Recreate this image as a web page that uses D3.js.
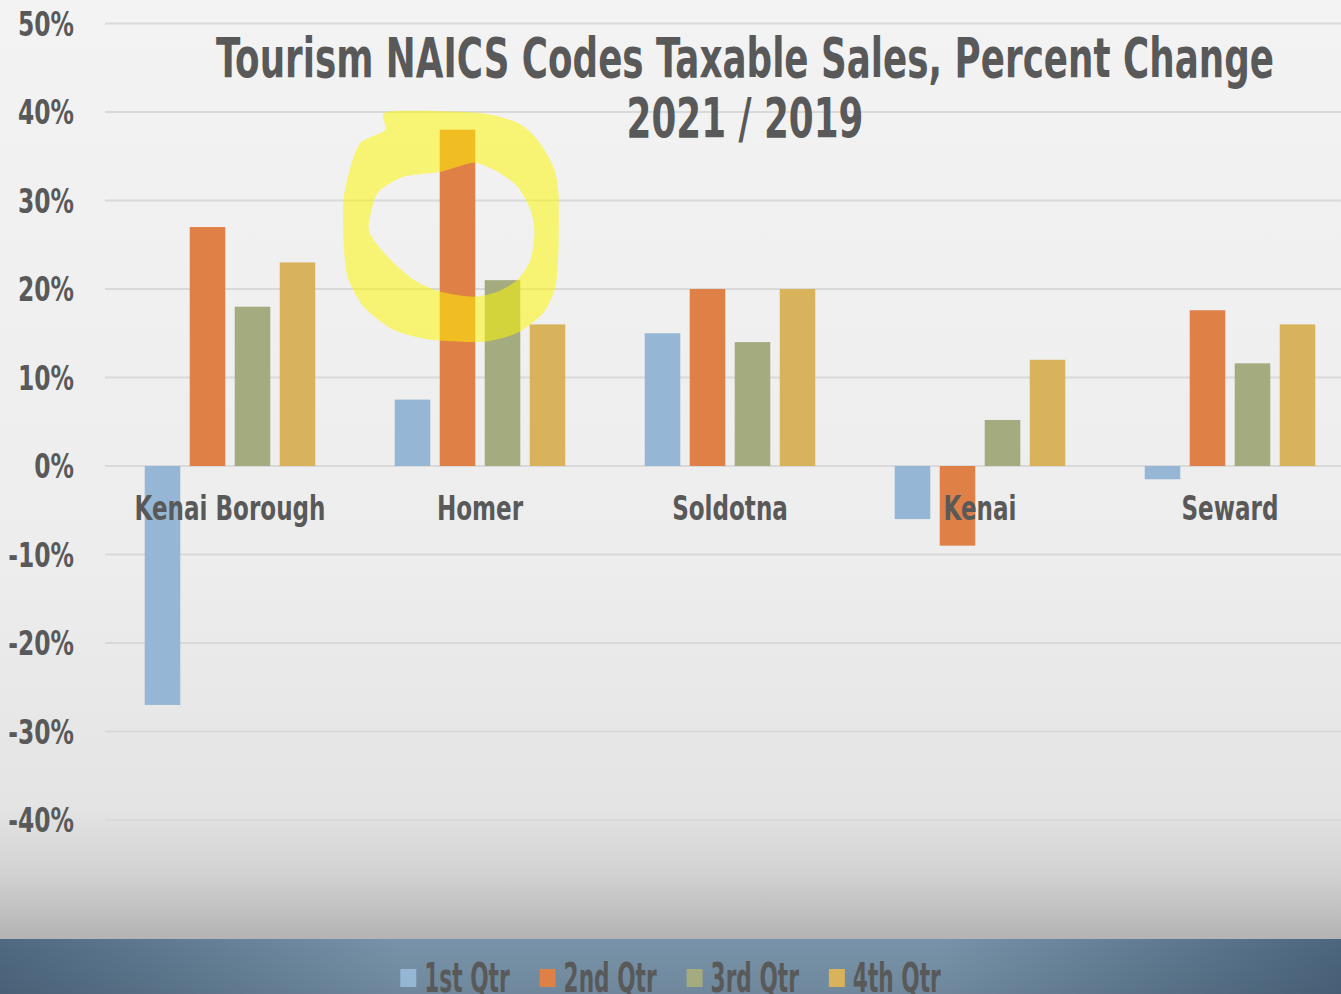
<!DOCTYPE html>
<html>
<head>
<meta charset="utf-8">
<script src="https://cdn.jsdelivr.net/npm/d3@7"></script>
<style>
  html, body { margin: 0; padding: 0; overflow: hidden; }
  svg { display: block; }
  text { font-family: Impact, "Liberation Sans Narrow", "DejaVu Sans Condensed", "DejaVu Sans", sans-serif; font-weight: bold; fill: #595959; }
</style>
</head>
<body>
<div id="chart"></div>
<script>
const places = ['Kenai Borough', 'Homer', 'Soldotna', 'Kenai', 'Seward'];
const quarters = ['1st Qtr', '2nd Qtr', '3rd Qtr', '4th Qtr'];
const qtr1 = [-27, 7.5, 15, -6, -1.5];
const qtr2 = [27, 38, 20, -9, 17.6];
const qtr3 = [18, 21, 14, 5.2, 11.6];
const qtr4 = [23, 16, 20, 12, 16];
const yTicks = [-40, -30, -20, -10, 0, 10, 20, 30, 40, 50];
const colors = ['#95b6d4', '#df8047', '#a4ab7e', '#d9b25c'];

const W = 1341, H = 994;
const series = [qtr1, qtr2, qtr3, qtr4];

// no condensed font installed: squeeze each text by the factor that makes
// a reference string as wide as in the picture
function squeeze(sel, refText, refWidth) {
    const probe = sel.filter(function() { return this.textContent === refText; }).node();
    const f = refWidth / probe.getComputedTextLength();
    sel.each(function() {
        const w = this.getComputedTextLength();
        d3.select(this).attr('textLength', w * f).attr('lengthAdjust', 'spacingAndGlyphs');
    });
    return f;
}

const svg = d3.select('#chart').append('svg')
    .attr('width', W)
    .attr('height', H);

// background
const defs = svg.append('defs');
const bg = defs.append('linearGradient').attr('id', 'bg')
    .attr('x1', 0).attr('y1', 0).attr('x2', 0).attr('y2', 1);
bg.append('stop').attr('offset', 0).attr('stop-color', '#f3f3f3');
bg.append('stop').attr('offset', 0.6).attr('stop-color', '#ededed');
bg.append('stop').attr('offset', 0.86).attr('stop-color', '#e4e4e4');
bg.append('stop').attr('offset', 0.93).attr('stop-color', '#d2d2d2');
bg.append('stop').attr('offset', 1).attr('stop-color', '#b3b3b3');
svg.append('rect').attr('width', W).attr('height', 939).attr('fill', 'url(#bg)');

const band = defs.append('linearGradient').attr('id', 'band')
    .attr('x1', 0).attr('y1', 0).attr('x2', 1).attr('y2', 0);
band.append('stop').attr('offset', 0).attr('stop-color', '#4f6981');
band.append('stop').attr('offset', 0.3).attr('stop-color', '#7893a9');
band.append('stop').attr('offset', 0.7).attr('stop-color', '#7893a9');
band.append('stop').attr('offset', 1).attr('stop-color', '#4c667e');
svg.append('rect').attr('y', 939).attr('width', W).attr('height', H - 939).attr('fill', 'url(#band)');
const bandShade = defs.append('linearGradient').attr('id', 'bandShade')
    .attr('x1', 0).attr('y1', 0).attr('x2', 0).attr('y2', 1);
bandShade.append('stop').attr('offset', 0).attr('stop-color', '#000').attr('stop-opacity', 0);
bandShade.append('stop').attr('offset', 1).attr('stop-color', '#000').attr('stop-opacity', 0.08);
svg.append('rect').attr('y', 939).attr('width', W).attr('height', H - 939).attr('fill', 'url(#bandShade)');

// scales
const y = d3.scaleLinear().domain([-40, 50]).range([820, 23.5]);
const x0 = d3.scaleBand().domain(places).range([105, 1355]);
const x1 = d3.scaleBand().domain(quarters).range([0, x0.bandwidth()])
    .paddingInner(0.21).paddingOuter(0.883);

// grid
svg.append('g').selectAll('line')
    .data(yTicks)
    .join('line')
    .attr('x1', 105).attr('x2', W)
    .attr('y1', d => y(d)).attr('y2', d => y(d))
    .attr('stroke', '#d9d9d9')
    .attr('stroke-width', 2);

// y axis labels
const yLabels = svg.append('g').selectAll('text')
    .data(yTicks)
    .join('text')
    .attr('x', 74)
    .attr('y', d => y(d) + 12)
    .attr('text-anchor', 'end')
    .style('font-size', '34px')
    .text(d => d + '%');
squeeze(yLabels, '50%', 56);

// bars
const groups = svg.append('g').selectAll('g')
    .data(places)
    .join('g')
    .attr('transform', d => `translate(${x0(d)},0)`);

groups.selectAll('rect')
    .data((p, i) => quarters.map((q, k) => ({q, v: series[k][i], c: colors[k]})))
    .join('rect')
    .attr('x', d => x1(d.q))
    .attr('width', x1.bandwidth())
    .attr('y', d => y(Math.max(0, d.v)))
    .attr('height', d => Math.abs(y(d.v) - y(0)))
    .attr('fill', d => d.c);

// category labels
const catLabels = svg.append('g').selectAll('text')
    .data(places)
    .join('text')
    .attr('x', d => x0(d) + x0.bandwidth() / 2)
    .attr('y', y(0) + 54)
    .attr('text-anchor', 'middle')
    .style('font-size', '34px')
    .text(d => d);
squeeze(catLabels, 'Kenai Borough', 191);

// title
const title = svg.append('g').selectAll('text')
    .data(['Tourism NAICS Codes Taxable Sales, Percent Change', '2021 / 2019'])
    .join('text')
    .attr('x', 745)
    .attr('y', (d, i) => 77 + i * 60)
    .attr('text-anchor', 'middle')
    .style('font-size', '55px')
    .text(d => d);
squeeze(title, 'Tourism NAICS Codes Taxable Sales, Percent Change', 1058);

// yellow highlighter loop round Homer 2nd Qtr
const ax = x0('Homer') + x1('2nd Qtr') + x1.bandwidth() / 2;
const ay = y(qtr2[1]);
const outer = [[387,112],[477,113],[517,123],[537,140],[553,167],[558,193],[558,250],[555,287],[543,313],[517,333],[483,342],[430,340],[393,330],[363,307],[347,277],[343,240],[343,200],[350,167],[360,143],[385,130]];
const inner = [[403,177],[440,172],[473,163],[497,172],[517,187],[530,210],[534,233],[530,260],[517,280],[497,292],[473,297],[440,292],[413,280],[390,260],[373,240],[368,227],[373,203],[380,190]];
const loop = d3.line()
    .x(d => ax + d[0] - 457)
    .y(d => ay + d[1] - 130)
    .curve(d3.curveCardinalClosed.tension(0.3));
svg.append('path')
    .attr('d', loop(outer) + loop(inner))
    .attr('fill', '#fff700')
    .attr('fill-opacity', 0.52)
    .attr('fill-rule', 'evenodd');

// legend
const legend = svg.append('g');
const items = legend.selectAll('g')
    .data(quarters)
    .join('g');
items.append('rect')
    .attr('y', 969).attr('width', 16).attr('height', 18)
    .attr('fill', (d, k) => colors[k]);
const legTexts = items.append('text')
    .attr('x', 24).attr('y', 992)
    .style('font-size', '40px')
    .text(d => d);
squeeze(legTexts, '2nd Qtr', 93);
let lx = 0;
items.each(function() {
    const t = d3.select(this).select('text');
    d3.select(this).attr('transform', `translate(${lx},0)`);
    lx += 24 + (+t.attr('textLength')) + 30;
});
legend.attr('transform', `translate(${(W - (lx - 30)) / 2},0)`);
</script>
</body>
</html>
